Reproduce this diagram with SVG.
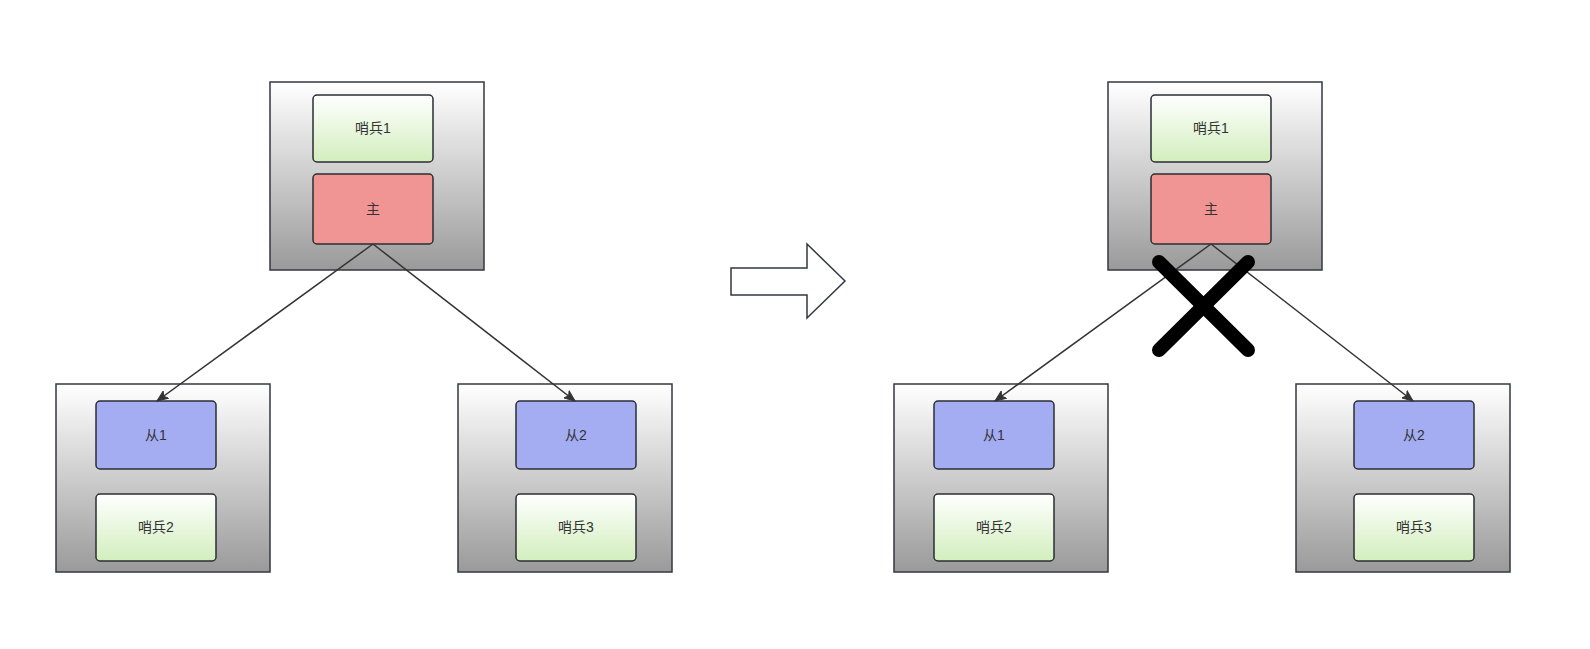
<svg xmlns="http://www.w3.org/2000/svg" width="1590" height="649" viewBox="0 0 1590 649">
<defs>
<linearGradient id="gGray" x1="0" y1="0" x2="0" y2="1"><stop offset="0" stop-color="#ffffff"/><stop offset="1" stop-color="#9a9a9a"/></linearGradient>
<linearGradient id="gGreen" x1="0" y1="0" x2="0" y2="1"><stop offset="0" stop-color="#ffffff"/><stop offset="1" stop-color="#d2eebd"/></linearGradient>
<marker id="arr" viewBox="0 0 12 10" refX="11" refY="5" markerWidth="12" markerHeight="10" markerUnits="userSpaceOnUse" orient="auto">
<path d="M0,0.5 L11,5 L0,9.5 L3,5 Z" fill="#333333" stroke="#333333" stroke-width="1"/>
</marker>
</defs>
<style>
.outer{fill:url(#gGray);stroke:#333840;stroke-width:1.5}
.green{fill:url(#gGreen);stroke:#2a2e33;stroke-width:1.5}
.red{fill:#f19594;stroke:#2a2e33;stroke-width:1.5}
.blue{fill:#a4acf2;stroke:#2a2e33;stroke-width:1.5}
.t{font-family:"Liberation Sans","Noto Sans CJK SC",sans-serif;font-size:14px;fill:#333333;text-anchor:middle}
.edge{stroke:#333333;stroke-width:1.5;fill:none}
</style>
<rect width="1590" height="649" fill="#ffffff"/>

<g id="left-top">
<rect class="outer" x="270" y="82" width="214" height="188"/>
<rect class="green" x="313" y="95" width="120" height="67" rx="4"/>
<text class="t" x="373" y="133">哨兵1</text>
<rect class="red" x="313" y="174" width="120" height="70" rx="4"/>
<text class="t" x="373" y="214">主</text>
</g>
<g id="left-bl">
<rect class="outer" x="56" y="384" width="214" height="188"/>
<rect class="blue" x="96" y="401" width="120" height="68" rx="4"/>
<text class="t" x="156" y="440">从1</text>
<rect class="green" x="96" y="494" width="120" height="67" rx="4"/>
<text class="t" x="156" y="532">哨兵2</text>
</g>
<g id="left-br">
<rect class="outer" x="458" y="384" width="214" height="188"/>
<rect class="blue" x="516" y="401" width="120" height="68" rx="4"/>
<text class="t" x="576" y="440">从2</text>
<rect class="green" x="516" y="494" width="120" height="67" rx="4"/>
<text class="t" x="576" y="532">哨兵3</text>
</g>

<g id="big-arrow">
<polygon points="731,268 807,268 807,244 845,281 807,318 807,295 731,295" fill="#ffffff" stroke="#333840" stroke-width="1.5"/>
</g>

<g id="right-top">
<rect class="outer" x="1108" y="82" width="214" height="188"/>
<rect class="green" x="1151" y="95" width="120" height="67" rx="4"/>
<text class="t" x="1211" y="133">哨兵1</text>
<rect class="red" x="1151" y="174" width="120" height="70" rx="4"/>
<text class="t" x="1211" y="214">主</text>
</g>
<g id="right-bl">
<rect class="outer" x="894" y="384" width="214" height="188"/>
<rect class="blue" x="934" y="401" width="120" height="68" rx="4"/>
<text class="t" x="994" y="440">从1</text>
<rect class="green" x="934" y="494" width="120" height="67" rx="4"/>
<text class="t" x="994" y="532">哨兵2</text>
</g>
<g id="right-br">
<rect class="outer" x="1296" y="384" width="214" height="188"/>
<rect class="blue" x="1354" y="401" width="120" height="68" rx="4"/>
<text class="t" x="1414" y="440">从2</text>
<rect class="green" x="1354" y="494" width="120" height="67" rx="4"/>
<text class="t" x="1414" y="532">哨兵3</text>
</g>

<g id="connectors">
<line class="edge" x1="373" y1="244" x2="157" y2="401" marker-end="url(#arr)"/>
<line class="edge" x1="373" y1="244" x2="575" y2="401" marker-end="url(#arr)"/>
<line class="edge" x1="1211" y1="244" x2="995" y2="401" marker-end="url(#arr)"/>
<line class="edge" x1="1211" y1="244" x2="1413" y2="401" marker-end="url(#arr)"/>
</g>

<g id="cross">
<line x1="1159" y1="262" x2="1248" y2="350" stroke="#000000" stroke-width="14" stroke-linecap="round"/>
<line x1="1248" y1="262" x2="1159" y2="350" stroke="#000000" stroke-width="14" stroke-linecap="round"/>
</g>
</svg>
